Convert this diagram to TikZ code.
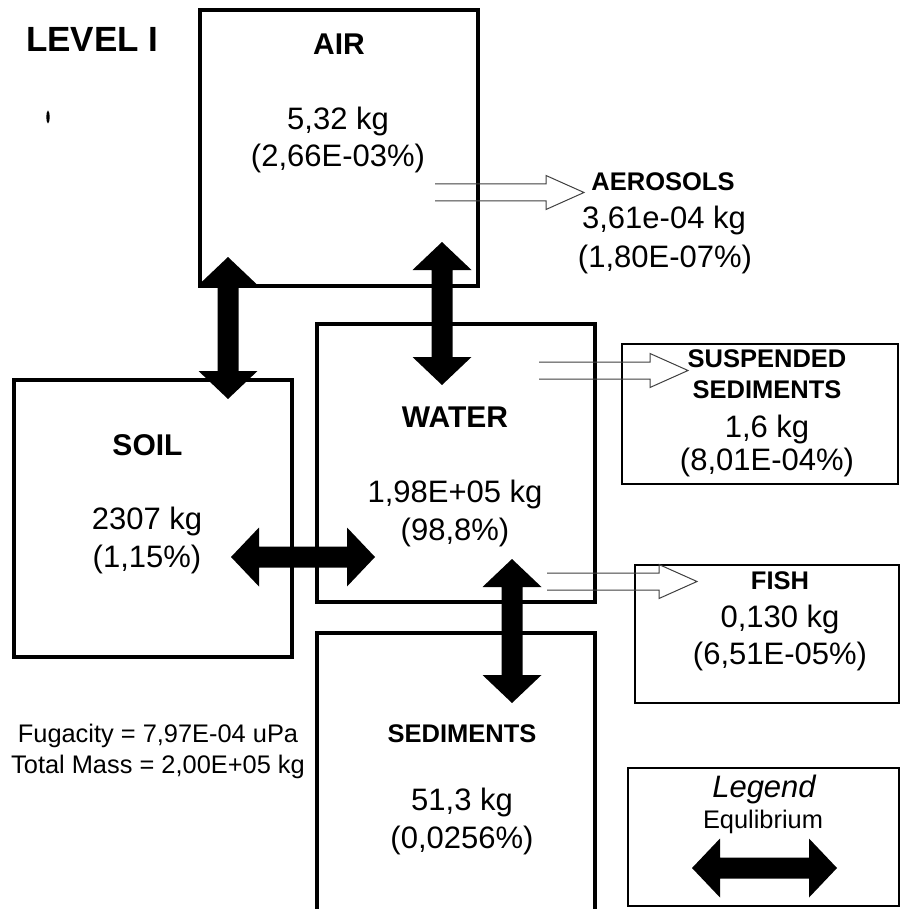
\documentclass[tikz,border=0pt]{standalone}
\usepackage{fontspec}
\setmainfont{Liberation Sans}
\usetikzlibrary{calc}
\newcommand\fsz[1]{\fontsize{#1}{#1}\selectfont}
\newcommand\eqarrow[2]{%
  \fill (#1)
   -- ($(#1)!28pt!(#2)!29.5pt!90:(#2)$)
   -- ($(#1)!28pt!(#2)!10.5pt!90:(#2)$)
   -- ($(#2)!28pt!(#1)!10.5pt!-90:(#1)$)
   -- ($(#2)!28pt!(#1)!29.5pt!-90:(#1)$)
   -- (#2)
   -- ($(#2)!28pt!(#1)!29.5pt!90:(#1)$)
   -- ($(#2)!28pt!(#1)!10.5pt!90:(#1)$)
   -- ($(#1)!28pt!(#2)!10.5pt!-90:(#2)$)
   -- ($(#1)!28pt!(#2)!29.5pt!-90:(#2)$)
   -- cycle;}
\newcommand\hollowarrow[2]{%
  \draw[transfer] ($(#1)+(0,-8.5)$) -- ($(#2)+(-38,-8.5)$) -- ($(#2)+(-38,-17)$)
   -- (#2) -- ($(#2)+(-38,17)$) -- ($(#2)+(-38,8.5)$) -- ($(#1)+(0,8.5)$);}
\tikzset{
  mainbox/.style={draw, line width=3.5pt, inner sep=0pt, outer sep=0pt},
  sidebox/.style={draw, line width=2pt, inner sep=0pt, outer sep=0pt},
  transfer/.style={draw=black!75, line width=1pt, line join=miter},
  txt/.style={inner sep=0pt, anchor=base, font=\fsz{31}},
  ttl/.style={inner sep=0pt, anchor=base, font=\bfseries\fsz{30}},
  sttl/.style={inner sep=0pt, anchor=base, font=\bfseries\fsz{25.5}},
  note/.style={inner sep=0pt, anchor=base, font=\fsz{25.4}},
}
\begin{document}
\begin{tikzpicture}[x=1pt,y=-1pt]
\useasboundingbox (0,0) rectangle (901,909);
\clip (0,0) rectangle (901,909);
\fill[white] (0,0) rectangle (901,909);

% compartments
\node[mainbox, minimum width=278pt, minimum height=276pt] (air) at (339,148) {};
\node[mainbox, minimum width=278pt, minimum height=278pt] (water) at (456,463) {};
\node[mainbox, minimum width=278pt, minimum height=277pt] (soil) at (153,518.5) {};
\node[mainbox, minimum width=278pt, minimum height=307pt] (sed) at (456,786.5) {};
\node[sidebox, minimum width=276pt, minimum height=140pt] (ss) at (760,414) {};
\node[sidebox, minimum width=264pt, minimum height=138pt] (fish) at (767,634) {};
\node[sidebox, minimum width=271pt, minimum height=138pt] (legend) at (763.5,837) {};

% texts
\node[inner sep=0pt, anchor=base west, font=\bfseries\fsz{35}] (level) at (26,52) {LEVEL I};
\fill (48,117) ellipse (1.6 and 6.5);

\node[ttl] (airt) at (339,55) {AIR};
\node[txt] (airv1) at (338,130) {5,32 kg};
\node[txt] (airv2) at (338,167) {(2,66E-03\%)};

\node[sttl] (aert) at (663,191) {AEROSOLS};
\node[txt] (aerv1) at (664,229) {3,61e-04 kg};
\node[txt] (aerv2) at (665,267) {(1,80E-07\%)};

\node[sttl] (sst1) at (767,367) {SUSPENDED};
\node[sttl] (sst2) at (767,398) {SEDIMENTS};
\node[txt] (ssv1) at (767,437) {1,6 kg};
\node[txt] (ssv2) at (767,470) {(8,01E-04\%)};

\node[ttl] (watt) at (455,427) {WATER};
\node[txt] (watv1) at (455,502) {1,98E+05 kg};
\node[txt] (watv2) at (455,540) {(98,8\%)};

\node[ttl] (soilt) at (147.5,455) {SOIL};
\node[txt] (soilv1) at (147,529) {2307 kg};
\node[txt] (soilv2) at (147,567) {(1,15\%)};

\node[sttl] (sedt) at (462,742) {SEDIMENTS};
\node[txt] (sedv1) at (462,810) {51,3 kg};
\node[txt] (sedv2) at (462,848) {(0,0256\%)};

\node[sttl] (fisht) at (780,589) {FISH};
\node[txt] (fishv1) at (780,627) {0,130 kg};
\node[txt] (fishv2) at (780,664) {(6,51E-05\%)};

\node[note] (fug1) at (158,742) {Fugacity = 7,97E-04 uPa};
\node[note] (fug2) at (158,773) {Total Mass = 2,00E+05 kg};

\node[inner sep=0pt, anchor=base, font=\itshape\fsz{31}] (legt) at (764,797) {Legend};
\node[note] (legeq) at (763,828) {Equlibrium};

% equilibrium arrows
\coordinate (as1) at (228,257); \coordinate (as2) at (228,399);
\coordinate (aw1) at (442,242); \coordinate (aw2) at (442,385);
\coordinate (sw1) at (231,557); \coordinate (sw2) at (375,557);
\coordinate (ws1) at (512,559); \coordinate (ws2) at (512,703);
\coordinate (lg1) at (692,868); \coordinate (lg2) at (837,868);
\eqarrow{as1}{as2}
\eqarrow{aw1}{aw2}
\eqarrow{sw1}{sw2}
\eqarrow{ws1}{ws2}
\eqarrow{lg1}{lg2}

% transfer arrows
\coordinate (ta1) at (435,192.5); \coordinate (ta2) at (584,192.5);
\coordinate (tb1) at (539,370.5); \coordinate (tb2) at (688,370.5);
\coordinate (tc1) at (547,581.5); \coordinate (tc2) at (697,581.5);
\hollowarrow{ta1}{ta2}
\hollowarrow{tb1}{tb2}
\hollowarrow{tc1}{tc2}
\end{tikzpicture}
\end{document}
